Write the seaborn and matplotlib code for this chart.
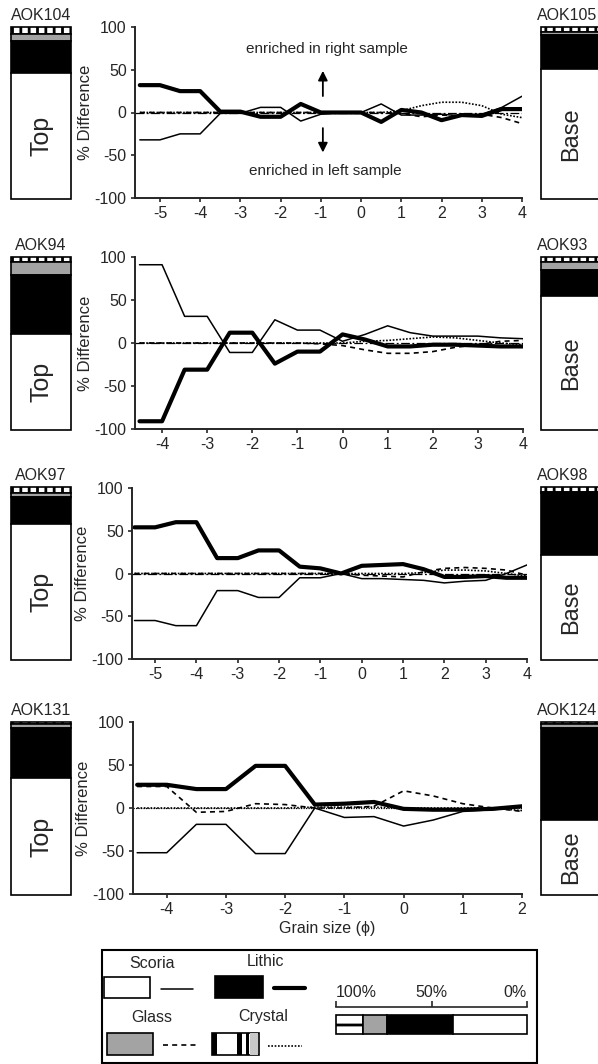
import matplotlib
matplotlib.use("Agg")
import matplotlib.pyplot as plt
import matplotlib.patches as mpatches
import matplotlib.transforms as mtransforms
import pandas as pd
import seaborn as sns

sns.set_style("ticks")
plt.rcParams["font.family"] = ["Liberation Sans", "DejaVu Sans"]
plt.rcParams["axes.unicode_minus"] = False
plt.rcParams["hatch.linewidth"] = 2.0

W, H = 598, 1064
fs = 11.5

# ---- data: % difference between paired samples, per grain size (phi)
phi_r1 = [-5.5, -5, -4.5, -4, -3.5, -3, -2.5, -2, -1.5, -1, -0.5, 0, 0.5, 1, 1.5, 2, 2.5, 3, 3.5, 4]
scoria_r1 = [-32, -32, -25, -25, -1, -1, 6, 6, -10, -2, 0, 0, 10, -3, -3, -2, -4, -2, 6, 19]
lithic_r1 = [32, 32, 25, 25, 1, 1, -5, -5, 10, 0, 0, 0, -11, 3, 0, -9, -3, -4, 4, 4]
glass_r1 = [0, 0, 0, 0, 0, 0, 0, 0, 0, 0, 0, 0, 0, -1, -5, -3, -4, -2, -6, -13]
crystal_r1 = [0, 0, 0, 0, 0, 0, 0, 0, 0, 0, 0, 0, 0, 2, 8, 12, 12, 8, -2, -6]

phi_r2 = [-4.5, -4, -3.5, -3, -2.5, -2, -1.5, -1, -0.5, 0, 0.5, 1, 1.5, 2, 2.5, 3, 3.5, 4]
scoria_r2 = [91, 91, 31, 31, -11, -11, 27, 15, 15, 2, 10, 20, 12, 8, 8, 8, 6, 5]
lithic_r2 = [-91, -91, -31, -31, 12, 12, -24, -10, -10, 10, 4, -4, -4, -2, -2, -3, -4, -4]
glass_r2 = [0, 0, 0, 0, 0, 0, 0, 0, -1, -3, -8, -12, -12, -10, -5, -2, 2, 3]
crystal_r2 = [0, 0, 0, 0, 0, 0, 0, 0, 0, 0, 2, 3, 5, 7, 6, 3, 0, -2]

phi_r3 = [-5.5, -5, -4.5, -4, -3.5, -3, -2.5, -2, -1.5, -1, -0.5, 0, 0.5, 1, 1.5, 2, 2.5, 3, 3.5, 4]
scoria_r3 = [-55, -55, -61, -61, -20, -20, -28, -28, -5, -5, 0, -6, -6, -7, -8, -11, -9, -8, 0, 10]
lithic_r3 = [54, 54, 60, 60, 18, 18, 27, 27, 8, 6, 0, 9, 10, 11, 5, -4, -4, -3, -5, -5]
glass_r3 = [0, 0, 0, 0, 0, 0, 0, 0, 0, 0, 0, -2, -3, -4, 2, 6, 7, 6, 4, -2]
crystal_r3 = [0, 0, 0, 0, 0, 0, 0, 0, 0, 0, 0, 0, 0, 0, 1, 4, 4, 3, 0, -3]

phi_r4 = [-4.5, -4, -3.5, -3, -2.5, -2, -1.5, -1, -0.5, 0, 0.5, 1, 1.5, 2]
scoria_r4 = [-52, -52, -19, -19, -53, -53, 0, -11, -10, -21, -14, -4, -2, 1]
lithic_r4 = [27, 27, 22, 22, 49, 49, 4, 5, 7, -1, -2, -2, -1, 2]
glass_r4 = [25, 25, -5, -4, 5, 4, 0, 0, 2, 20, 14, 5, 0, -4]
crystal_r4 = [0, 0, 0, 0, 0, 0, 1, 1, 1, 0, 0, 0, 0, -3]

xticks_r1 = [-5, -4, -3, -2, -1, 0, 1, 2, 3, 4]
xticks_r2 = [-4, -3, -2, -1, 0, 1, 2, 3, 4]
xticks_r3 = [-5, -4, -3, -2, -1, 0, 1, 2, 3, 4]
xticks_r4 = [-4, -3, -2, -1, 0, 1, 2]
yticks = [-100, -50, 0, 50, 100]

# ---- componentry of each sample (% from top: crystal, glass, lithic; rest scoria)
left_names = ["AOK104", "AOK94", "AOK97", "AOK131"]
left_crystal = [4, 3, 3.5, 1]
left_glass = [4, 7.5, 2, 2.5]
left_lithic = [19, 34, 16, 29]
right_names = ["AOK105", "AOK93", "AOK98", "AOK124"]
right_crystal = [3, 3, 3, 1]
right_glass = [1.5, 4.5, 0.5, 2.5]
right_lithic = [20, 15, 36, 53]

# legend example bar (crystal, glass, lithic, scoria)
legend_bar = [14, 12.5, 35, 38.5]

fig = plt.figure(figsize=(W / 100, H / 100), dpi=100)


def px_axes(x0, y0, x1, y1, **kw):
    return fig.add_axes([x0 / W, 1 - y1 / H, (x1 - x0) / W, (y1 - y0) / H], **kw)


rows = [
    dict(phi=phi_r1, s=scoria_r1, l=lithic_r1, g=glass_r1, c=crystal_r1, xt=xticks_r1,
         xlim=(-5.62, 4), box=(135, 27, 522, 198), zls=(0, (7, 2, 1.5, 2))),
    dict(phi=phi_r2, s=scoria_r2, l=lithic_r2, g=glass_r2, c=crystal_r2, xt=xticks_r2,
         xlim=(-4.6, 4), box=(135, 257, 523, 429), zls=(0, (7, 2, 1.5, 2))),
    dict(phi=phi_r3, s=scoria_r3, l=lithic_r3, g=glass_r3, c=crystal_r3, xt=xticks_r3,
         xlim=(-5.56, 4), box=(132, 488, 527, 659), zls=(0, (7, 2, 1.5, 2))),
    dict(phi=phi_r4, s=scoria_r4, l=lithic_r4, g=glass_r4, c=crystal_r4, xt=xticks_r4,
         xlim=(-4.57, 2), box=(133, 722, 522, 894), zls=(0, (1, 1))),
]
bar_rows = [(27, 199), (257, 430), (487, 660), (722, 895)]

styles = {
    "Scoria": dict(lw=1.1, ls="-"),
    "Lithic": dict(lw=3.0, ls="-"),
    "Glass": dict(lw=1.2, ls=(0, (3, 2.5))),
    "Crystal": dict(lw=1.2, ls=(0, (1, 1))),
}

for i, r in enumerate(rows):
    ax = px_axes(*r["box"])
    ax.axhline(0, color="k", lw=0.9, ls=r["zls"], zorder=1)
    df = pd.DataFrame({"phi": r["phi"], "Scoria": r["s"], "Lithic": r["l"],
                       "Glass": r["g"], "Crystal": r["c"]})
    for comp in ["Crystal", "Glass", "Scoria", "Lithic"]:
        st = styles[comp]
        sns.lineplot(data=df, x="phi", y=comp, ax=ax, color="k", lw=st["lw"],
                     linestyle=st["ls"], zorder=2)
    ax.set_xlim(*r["xlim"])
    ax.set_ylim(-100, 100)
    ax.set_xticks(r["xt"])
    ax.set_yticks(yticks)
    sns.despine(ax=ax)
    for sp in ["left", "bottom"]:
        ax.spines[sp].set_linewidth(1.4)
    ax.tick_params(length=3, width=1.2, labelsize=fs, pad=3)
    ax.set_ylabel("% Difference", fontsize=fs + 0.5, labelpad=1)
    ax.set_xlabel("")
    ax.set_facecolor("none")
    if i == 0:
        ax.annotate("", xy=(-0.95, 52), xytext=(-0.95, 16),
                    arrowprops=dict(arrowstyle="-|>", color="k", lw=1.3, mutation_scale=14))
        ax.annotate("", xy=(-0.95, -50), xytext=(-0.95, -15),
                    arrowprops=dict(arrowstyle="-|>", color="k", lw=1.3, mutation_scale=14))
        ax.text(-0.85, 74, "enriched in right sample", ha="center", va="center", fontsize=fs - 0.5)
        ax.text(-0.9, -68, "enriched in left sample", ha="center", va="center", fontsize=fs - 0.5)
    if i == 3:
        ax.set_xlabel("Grain size (\u03d5)", fontsize=fs, labelpad=3)


def comp_bar(ax, name, cry, gla, lit, word, word_fs, name_left):
    sco = 100 - cry - gla - lit
    segs = [cry, gla, lit, sco]
    colors = ["white", "#a3a3a3", "black", "white"]
    hatches = ["||", None, None, None]
    bottom = 0
    for s, c, h in zip(segs, colors, hatches):
        ax.bar(0, s, bottom=bottom, width=1, color=c, edgecolor="k", lw=1.2,
               hatch=h, clip_on=False)
        bottom += s
    ax.set_xlim(-0.5, 0.5)
    ax.set_ylim(100, 0)
    ax.axis("off")
    ax.text(0, 100 - sco / 2, word, rotation=90, ha="center", va="center", fontsize=word_fs)
    off = mtransforms.offset_copy(ax.transAxes, fig=fig, y=4, units="dots")
    if name_left:
        ax.text(-0.06, 1, name, transform=off, ha="left", va="bottom", fontsize=fs)
    else:
        ax.text(0.5, 1, name, transform=off, ha="center", va="bottom", fontsize=fs)


for i, (y0, y1) in enumerate(bar_rows):
    axl = px_axes(11, y0, 71, y1)
    comp_bar(axl, left_names[i], left_crystal[i], left_glass[i], left_lithic[i], "Top", 18, False)
    axr = px_axes(541, y0, 601, y1)
    comp_bar(axr, right_names[i], right_crystal[i], right_glass[i], right_lithic[i], "Base", 17, True)

# ---- legend box (pixel coordinates overlay)
lg = px_axes(0, 0, W, H, zorder=-1)
lg.set_xlim(0, W)
lg.set_ylim(H, 0)
lg.axis("off")
lg.add_patch(mpatches.Rectangle((102, 950), 435, 113, fill=False, lw=1.5, ec="k"))

lg.text(152, 963, "Scoria", ha="center", va="center", fontsize=fs)
lg.add_patch(mpatches.Rectangle((104, 977), 46, 21, fc="white", ec="k", lw=1.2))
lg.plot([161, 193], [989, 989], color="k", **styles["Scoria"])

lg.text(266, 962, "Lithic", ha="center", va="center", fontsize=fs)
lg.add_patch(mpatches.Rectangle((215, 976), 48, 22, fc="black", ec="k", lw=1.2))
lg.plot([274, 305], [988, 988], color="k", **styles["Lithic"])

lg.text(152, 1018, "Glass", ha="center", va="center", fontsize=fs)
lg.add_patch(mpatches.Rectangle((107, 1033), 46, 22, fc="#a3a3a3", ec="k", lw=1.2))
lg.plot([163, 196], [1045, 1045], color="k", **styles["Glass"])

lg.text(263, 1017, "Crystal", ha="center", va="center", fontsize=fs)
lg.add_patch(mpatches.Rectangle((212, 1033), 47, 22, fc="white", ec="k", lw=1.2))
for xs, wd, c in [(212, 5, "black"), (237, 5, "black"), (246, 2.5, "black"), (250, 8, "#c8c8c8")]:
    lg.add_patch(mpatches.Rectangle((xs, 1033), wd, 22, fc=c, ec="none"))
lg.plot([268, 302], [1046, 1046], color="k", **styles["Crystal"])

# legend example bar with % scale
sb = px_axes(336, 1015, 527, 1034)
left = 0
for s, c, h in zip(legend_bar, ["white", "#a3a3a3", "black", "white"], ["-", None, None, None]):
    sb.barh(0, s, left=left, height=1, color=c, edgecolor="k", lw=1.2, hatch=h, clip_on=False)
    left += s
sb.set_xlim(0, 100)
sb.set_ylim(-0.5, 0.5)
for sp in ["left", "right", "bottom"]:
    sb.spines[sp].set_visible(False)
sb.spines["top"].set_position(("outward", 6))
sb.spines["top"].set_linewidth(1.2)
sb.xaxis.tick_top()
sb.set_yticks([])
sb.set_xticks([0, 50, 100])
sb.set_xticklabels(["100%", "50%", "0%"])
sb.tick_params(axis="x", direction="out", length=4, width=1.2, labelsize=fs, pad=1)
for lab, ha in zip(sb.get_xticklabels(), ["left", "center", "right"]):
    lab.set_ha(ha)
sb.set_facecolor("none")

fig.savefig("out.png", dpi=100)
